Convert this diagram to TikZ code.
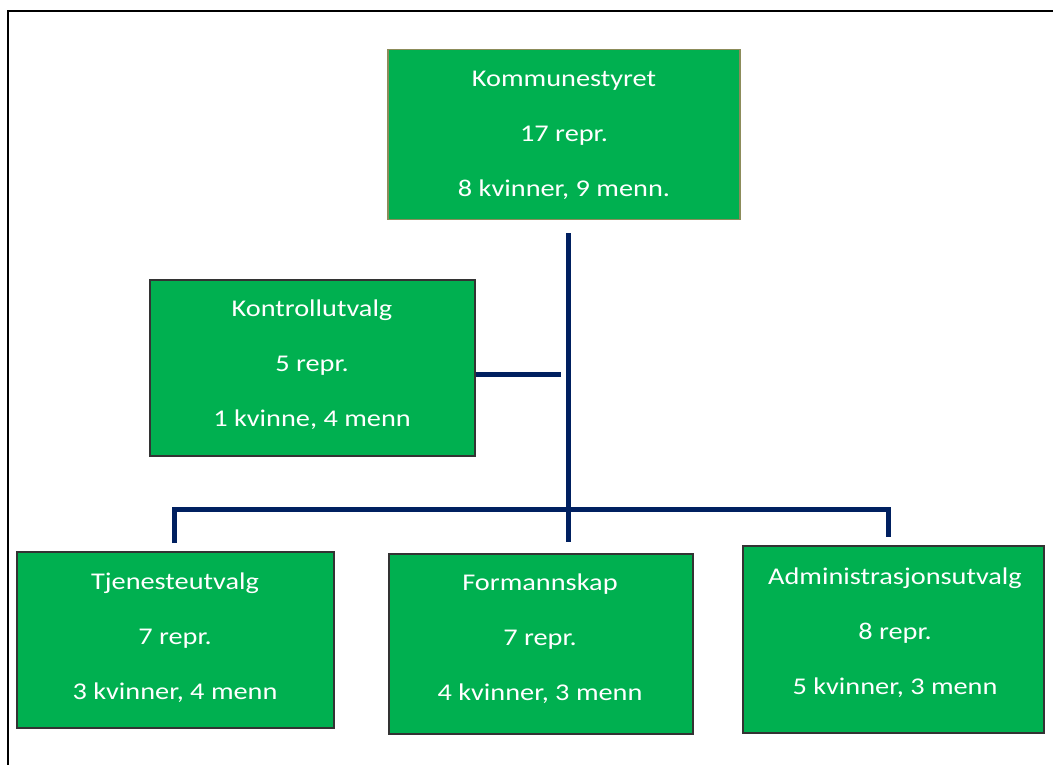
\documentclass[tikz,border=0pt]{standalone}
\usepackage{fontspec}
\setmainfont{Carlito}[FakeStretch=1.18]
\definecolor{boxgreen}{HTML}{00B050}
\definecolor{navy}{HTML}{002060}
\definecolor{olive}{HTML}{8C8C5A}
\begin{document}
\begin{tikzpicture}[x=1pt,y=-1pt,
  orgbox/.style={draw=black!80,line width=1.2pt,fill=boxgreen,text=white,inner sep=0pt},
  lbl/.style={text=white,font=\fontsize{24}{28}\selectfont,anchor=base},
  conn/.style={draw=navy,line width=5pt}]
\useasboundingbox (0,0) rectangle (1053,764);
% outer frame (right and bottom edges cropped)
\draw[line width=2pt,black] (8,770) -- (8,10.5) -- (1060,10.5);
% boxes
\node[orgbox,draw=olive,minimum width=352pt,minimum height=170pt] (ks) at (564,134.5) {};
\node[orgbox,minimum width=325pt,minimum height=176pt] (ku) at (312.5,368) {};
\node[orgbox,minimum width=317pt,minimum height=176pt] (tj) at (175.5,640) {};
\node[orgbox,minimum width=304pt,minimum height=180pt] (fm) at (541,644) {};
\node[orgbox,minimum width=301pt,minimum height=187pt] (ad) at (893.5,639.5) {};
% texts
\node[lbl] (ks1) at (564,86) {Kommunestyret};
\node[lbl] (ks2) at (564,141) {17 repr.};
\node[lbl] (ks3) at (564,196) {8 kvinner, 9 menn.};
\node[lbl] (ku1) at (312,316) {Kontrollutvalg};
\node[lbl] (ku2) at (312,371) {5 repr.};
\node[lbl] (ku3) at (312,426) {1 kvinne, 4 menn};
\node[lbl] (tj1) at (175,589) {Tjenesteutvalg};
\node[lbl] (tj2) at (175,644) {7 repr.};
\node[lbl] (tj3) at (175,699) {3 kvinner, 4 menn};
\node[lbl] (fm1) at (540,590) {Formannskap};
\node[lbl] (fm2) at (540,645) {7 repr.};
\node[lbl] (fm3) at (540,700) {4 kvinner, 3 menn};
\node[lbl] (ad1) at (895,584) {Administrasjonsutvalg};
\node[lbl] (ad2) at (895,639) {8 repr.};
\node[lbl] (ad3) at (895,694) {5 kvinner, 3 menn};
% connector coordinates
\coordinate (vtop) at (568,233);
\coordinate (vbot) at (568,542);
\coordinate (kuend) at (561,374);
\coordinate (tjtop) at (174,543);
\coordinate (adtop) at (888,537);
\coordinate (hl) at (174,509);
\coordinate (hr) at (888,509);
% connectors
\draw[conn] (vtop) -- (vbot);
\draw[conn] (ku.east |- kuend) -- (kuend);
\draw[conn] (tjtop) -- (hl) -- (hr) -- (adtop);
\end{tikzpicture}
\end{document}
